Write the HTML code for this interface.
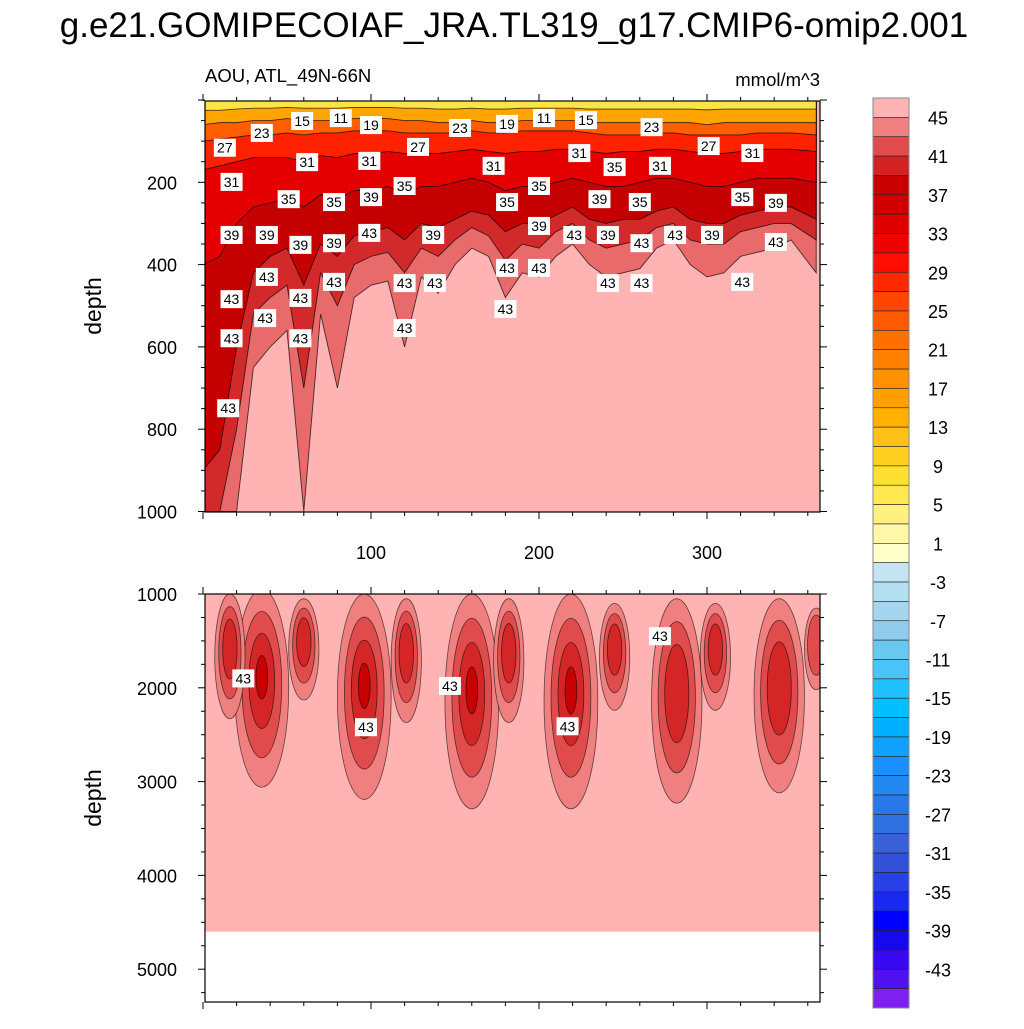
<!DOCTYPE html>
<html><head><meta charset="utf-8">
<style>
body{margin:0;background:#fff;}
svg text{font-family:"Liberation Sans",sans-serif;}
</style></head>
<body>
<svg id="chart" width="1024" height="1024" viewBox="0 0 1024 1024" xmlns="http://www.w3.org/2000/svg">
<text x="514" y="37" font-size="35" text-anchor="middle">g.e21.GOMIPECOIAF_JRA.TL319_g17.CMIP6-omip2.001</text>
<text x="205" y="82" font-size="18.5">AOU, ATL_49N-66N</text>
<text x="820" y="86" font-size="18.5" text-anchor="end">mmol/m^3</text>
<text transform="translate(101,306) rotate(-90)" font-size="23" text-anchor="middle">depth</text>
<text transform="translate(101,798) rotate(-90)" font-size="23" text-anchor="middle">depth</text>
<defs>
<clipPath id="clipTop"><rect x="205" y="101" width="615" height="411"/></clipPath>
<clipPath id="clipBot"><rect x="205" y="594" width="615" height="408"/></clipPath>
</defs>
<g id="topPanel" clip-path="url(#clipTop)"></g>
<g id="botPanel" clip-path="url(#clipBot)"></g>
<g id="axes"></g>
<g id="labels"></g>
<g id="cbar"></g>
</svg>
<script>
const days=[0,10,20,30,40,50,60,70,80,90,100,110,120,130,140,150,160,170,180,190,200,210,220,230,240,250,260,270,280,290,300,310,320,330,340,350,365];
const d43=[1000,1000,1000,650,600,560,1000,520,700,480,450,440,600,430,470,400,360,380,480,420,430,380,350,400,430,420,410,360,340,400,430,420,380,370,360,340,420];
const d41=[1000,1000,800,520,480,450,700,420,500,400,380,370,420,360,380,340,310,330,390,350,360,320,300,340,360,350,340,310,300,340,350,350,320,310,300,300,340];
const d39=[900,850,600,420,380,360,450,350,380,330,320,310,340,300,310,290,270,280,320,300,300,280,260,290,300,290,290,270,260,290,300,300,280,270,260,260,290];
const d35=[400,380,300,260,250,240,260,230,240,220,220,210,230,210,210,200,190,200,220,210,210,200,190,200,210,210,200,190,190,200,210,210,200,190,190,190,200];
const d29=[170,160,150,140,140,140,150,135,140,130,130,125,130,130,130,125,120,125,130,125,125,120,120,125,130,125,125,120,120,125,130,130,125,120,120,120,125];
const d23=[100,95,90,85,85,80,85,80,80,75,75,75,80,80,80,80,75,80,80,75,75,75,75,80,85,85,85,80,80,85,85,85,85,80,80,80,85];
const d15=[60,55,55,50,50,45,50,50,50,45,45,45,50,50,55,55,50,55,55,50,50,50,50,55,55,55,55,55,55,55,60,55,55,55,55,55,55];
const d7=[25,25,22,20,20,18,20,20,20,18,18,18,20,20,22,22,20,22,22,20,20,20,20,22,22,22,22,22,22,22,24,22,22,22,22,22,22];
const blobDay=[35,96,160,219,282,343,16,60,121,182,245,305,365];
const blobBottom=[3060,3190,3290,3290,3230,3120,2330,2130,2370,2370,2240,2240,2020];
const blobTop=[950,1000,1000,1000,1050,1050,1000,1050,1050,1050,1100,1100,1150];
const blobHalfWidth=[16,16,16,16,15,15,9,9,9,9,9,9,7];
const blobLevels=[4,4,4,4,3,3,3,3,3,3,3,3,2];
const labelDay=[13,35,59,82,100,128,153,181,203,228,267,301,327,272,245,224,173,99,62,17,51,78,100,120,181,200,236,260,321,341,17,38,58,78,99,137,200,221,241,261,281,303,341,38,58,78,120,138,181,200,241,261,321,180,17,37,120,17,58,15];
const labelDepth=[116,80,51,44,61,114,68,58,44,49,66,112,129,160,163,129,160,148,151,199,241,248,236,209,248,209,241,248,236,250,328,328,352,348,323,328,306,328,328,348,328,328,345,430,481,442,445,445,408,408,445,445,442,508,484,530,554,579,579,749];
const labelText=["27","23","15","11","19","27","23","19","11","15","23","27","31","31","35","31","31","31","31","31","35","35","39","35","35","35","39","35","35","39","39","39","39","39","43","39","39","43","39","43","43","39","43","43","43","43","43","43","43","43","43","43","43","43","43","43","43","43","43","43"];
const botLabelDay=[24,97,147,217,272];
const botLabelDepth=[1900,2420,1980,2410,1450];
const cbColors=["#ffb3b3","#f08080","#e04c4c","#d22222","#c80000","#d00000","#e10000","#f00000","#ff0d00","#ff2800","#ff4500","#ff5a00","#ff7000","#ff7f00","#ff9000","#ffa000","#ffb000","#ffc018","#ffd020","#ffe030","#ffe850","#fff080","#fff8a8","#ffffc8","#c4e4f2","#b4dff2","#a4d6f0","#90cceb","#68c8f0","#48c4f8","#20c0ff","#00c0ff","#00b0ff","#10a0ff","#1890ff","#2088f0","#2878e8","#3070e0","#3860d8","#3050d8","#2840e8","#1828f0","#0000ff","#1808f0","#3808f0","#5010f0","#8020f0"];
const cbLabels=["45","41","37","33","29","25","21","17","13","9","5","1","-3","-7","-11","-15","-19","-23","-27","-31","-35","-39","-43"];
const xTicks=[100,200,300];
const yTicksTop=[200,400,600,800,1000];
const yTicksBot=[1000,2000,3000,4000,5000];

const NS="http://www.w3.org/2000/svg";
function mk(tag,attrs,parent){const e=document.createElementNS(NS,tag);for(const k in attrs)e.setAttribute(k,attrs[k]);parent.appendChild(e);return e;}
const X=d=>203+d*1.68;
const YT=z=>100+z*0.4115;
const YB=z=>594+(z-1000)*0.0938;

const topG=document.getElementById('topPanel');
let bg=mk('rect',{x:205,y:101,width:615,height:411,fill:'#ffb3b3'},topG);


const bands=[[d43,'#e86a6a','contour-band-43'],[d41,'#d22a2a','contour-band-41'],[d39,'#c40000','contour-band-39'],[d35,'#e40000','contour-band-35'],[d29,'#ff2200','contour-band-29'],[d23,'#ff5e00','contour-band-23'],[d15,'#ffa400','contour-band-15'],[d7,'#ffe448','contour-band-7']];
bands.forEach(b=>{
  let p='M'+X(days[0])+','+YT(0);
  b[0].forEach((v,i)=>{p+=' L'+X(days[i])+','+YT(v);});
  p+=' L'+X(days[days.length-1])+','+YT(0)+' Z';
  const e=mk('path',{d:p,fill:b[1],stroke:'rgba(0,0,0,0.7)','stroke-width':0.9},topG);
  
  
});
let yl=mk('rect',{x:205,y:101,width:615,height:YT(4)-101,fill:'#fff8b0'},topG);



const botG=document.getElementById('botPanel');
let bg2=mk('rect',{x:205,y:594,width:615,height:YB(4600)-594,fill:'#ffb3b3'},botG);


const lvlCol=['#f08080','#e04c4c','#d42626','#c80000'];
blobDay.forEach((d,i)=>{
  const core=(blobTop[i]+blobBottom[i])/2-150;
  for(let k=0;k<blobLevels[i];k++){
    const f=1-k*0.26;
    const t0=core-(core-blobTop[i])*f, bt=core+(blobBottom[i]-core)*f;
    const e=mk('ellipse',{cx:X(d),cy:(YB(t0)+YB(bt))/2,rx:blobHalfWidth[i]*1.68*f,ry:(YB(bt)-YB(t0))/2,fill:lvlCol[k],stroke:'rgba(0,0,0,0.6)','stroke-width':0.8},botG);
    
    
  }
});

const lab=document.getElementById('labels');
function boxLabel(x,y,t){
  const g=mk('g',{},lab);
  
  
  mk('rect',{x:x-11,y:y-9,width:22,height:18,fill:'#fff'},g);
  const tx=mk('text',{x:x,y:y+5,'font-size':14,'text-anchor':'middle'},g);
  tx.textContent=t;
}
labelDay.forEach((d,i)=>boxLabel(X(d),YT(labelDepth[i]),labelText[i]));
botLabelDay.forEach((d,i)=>boxLabel(X(d),YB(botLabelDepth[i]),'43'));

const ax=document.getElementById('axes');
function frame(y0,y1,name){
  const r=mk('rect',{x:205,y:y0,width:615,height:y1-y0,fill:'none',stroke:'#000','stroke-width':1.2},ax);
  
  
  for(let d=0;d<=360;d+=20){
    const L=(d%100===0)?7:4;
    mk('line',{x1:X(d),x2:X(d),y1:y0,y2:y0-L,stroke:'#000'},ax);
    mk('line',{x1:X(d),x2:X(d),y1:y1,y2:y1+L,stroke:'#000'},ax);
  }
}
frame(101,512,'upper-frame');
frame(594,1002,'lower-frame');
for(let z=0;z<=1000;z+=50){const L=z%200===0?7:4;
  mk('line',{x1:205,x2:205-L,y1:YT(z),y2:YT(z),stroke:'#000'},ax);
  mk('line',{x1:820,x2:820+L,y1:YT(z),y2:YT(z),stroke:'#000'},ax);}
for(let z=1000;z<=5300;z+=250){const L=z%1000===0?7:4;
  mk('line',{x1:205,x2:205-L,y1:YB(z),y2:YB(z),stroke:'#000'},ax);
  mk('line',{x1:820,x2:820+L,y1:YB(z),y2:YB(z),stroke:'#000'},ax);}
xTicks.forEach(v=>{const t=mk('text',{x:X(v),y:559,'font-size':18,'text-anchor':'middle'},ax);
  
  
  t.textContent=v;});
yTicksTop.forEach(v=>{const t=mk('text',{x:177,y:YT(v)+7,'font-size':18,'text-anchor':'end'},ax);
  
  
  t.textContent=v;});
yTicksBot.forEach(v=>{const t=mk('text',{x:177,y:YB(v)+7,'font-size':18,'text-anchor':'end'},ax);
  
  
  t.textContent=v;});

const cb=document.getElementById('cbar');
const bh=(1008-98)/cbColors.length;
cbColors.forEach((c,i)=>{const r=mk('rect',{x:873,y:98+i*bh,width:36,height:bh,fill:c,stroke:'#222','stroke-width':0.6},cb);
  
  });
mk('rect',{x:873,y:98,width:36,height:910,fill:'none',stroke:'#888','stroke-width':1},cb);
cbLabels.forEach((l,i)=>{const t=mk('text',{x:938,y:98+bh*(1+2*i)+7,'font-size':18,'text-anchor':'middle'},cb);
  
  
  t.textContent=l;});
</script>
</body></html>
